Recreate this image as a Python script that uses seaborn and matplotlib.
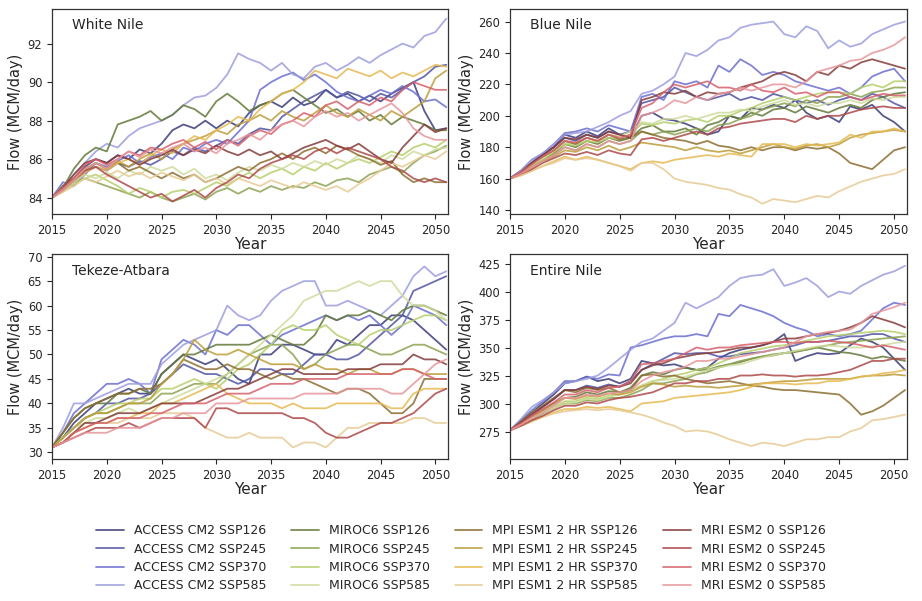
import numpy as np
import pandas as pd
import matplotlib
matplotlib.use("Agg")
import matplotlib.pyplot as plt
import seaborn as sns

sns.set_style("ticks")
plt.rcParams['font.family'] = ['DejaVu Sans']

START_YEAR = 2015
SERIES = ["ACCESS CM2 SSP126", "ACCESS CM2 SSP245", "ACCESS CM2 SSP370", "ACCESS CM2 SSP585",
          "MIROC6 SSP126", "MIROC6 SSP245", "MIROC6 SSP370", "MIROC6 SSP585",
          "MPI ESM1 2 HR SSP126", "MPI ESM1 2 HR SSP245", "MPI ESM1 2 HR SSP370", "MPI ESM1 2 HR SSP585",
          "MRI ESM2 0 SSP126", "MRI ESM2 0 SSP245", "MRI ESM2 0 SSP370", "MRI ESM2 0 SSP585"]
PANELS = ["White Nile", "Blue Nile", "Tekeze-Atbara", "Entire Nile"]
YTICKS = {"White Nile": [84, 86, 88, 90, 92],
          "Blue Nile": [140, 160, 180, 200, 220, 240, 260],
          "Tekeze-Atbara": [30, 35, 40, 45, 50, 55, 60, 65, 70],
          "Entire Nile": [275, 300, 325, 350, 375, 400, 425]}
YLIMS = {"White Nile": (83.15, 93.8), "Blue Nile": (137.5, 268),
         "Tekeze-Atbara": (28.6, 70.5), "Entire Nile": (250.3, 433.3)}
XTICKS = [2015, 2020, 2025, 2030, 2035, 2040, 2045, 2050]

# annual flow values (MCM/day), 2015..2051
white_nile = {
 "ACCESS CM2 SSP126": [84.0,84.6,85.0,85.6,86.0,85.8,86.2,86.0,86.5,86.3,86.8,87.5,87.8,87.6,88.0,87.6,88.0,87.7,88.4,88.8,89.0,88.7,89.2,88.8,89.0,89.6,89.2,89.4,89.0,89.3,89.0,89.4,89.7,90.0,88.5,87.5,87.6],
 "ACCESS CM2 SSP245": [84.0,84.5,84.8,85.3,85.6,85.4,85.8,85.6,85.9,85.7,86.0,86.4,86.2,86.6,86.4,86.7,87.0,86.8,87.3,87.6,87.5,88.2,88.6,89.0,89.3,89.6,89.2,89.5,89.3,89.0,89.4,89.2,89.6,90.0,90.3,90.8,90.9],
 "ACCESS CM2 SSP370": [84.0,84.8,84.6,85.2,85.8,85.6,85.9,86.2,85.8,86.1,86.3,86.0,86.6,86.4,86.8,87.0,86.8,87.4,88.0,89.6,90.0,90.3,90.5,90.1,90.4,90.0,89.5,89.2,89.0,89.3,89.6,89.4,89.8,89.5,89.0,89.1,88.7],
 "ACCESS CM2 SSP585": [84.0,84.6,85.2,85.8,86.4,86.8,86.6,87.2,87.6,87.8,88.0,88.3,88.8,89.2,89.3,89.7,90.4,91.5,91.2,91.0,90.6,91.0,90.4,90.2,90.8,91.0,90.6,90.9,91.3,91.0,91.4,91.7,92.0,91.8,92.4,92.6,93.3],
 "MIROC6 SSP126": [84.0,84.5,85.5,86.2,86.6,86.4,87.8,88.0,88.2,88.5,88.0,88.3,88.8,88.6,88.2,89.0,89.4,89.0,88.5,88.8,89.0,89.4,89.6,89.2,88.8,88.4,88.6,88.2,88.5,88.0,88.3,87.8,88.2,88.0,87.8,87.5,87.5],
 "MIROC6 SSP245": [84.0,84.4,84.8,85.0,84.8,84.6,84.4,84.2,84.0,84.3,84.0,83.8,84.0,84.2,83.9,84.3,84.5,84.2,84.5,84.3,84.6,84.4,84.6,84.5,84.8,84.6,84.9,85.0,84.8,85.2,85.4,85.6,85.3,85.8,86.2,86.4,86.7],
 "MIROC6 SSP370": [84.0,84.3,84.7,85.0,85.2,84.9,84.6,84.2,84.5,84.3,84.0,84.3,84.4,84.2,84.5,84.8,84.6,85.0,85.3,85.0,85.3,85.5,85.2,85.6,85.4,85.8,85.5,85.8,86.0,85.8,86.1,86.4,86.2,86.6,86.8,86.6,87.0],
 "MIROC6 SSP585": [84.0,84.4,84.8,85.2,85.0,85.3,85.0,85.4,85.2,85.6,85.4,85.6,85.2,85.5,85.0,85.2,84.9,85.3,85.6,85.4,85.7,85.5,85.8,85.6,85.9,85.7,86.0,85.8,86.2,86.0,85.8,86.2,86.0,86.4,86.2,86.5,86.6],
 "MPI ESM1 2 HR SSP126": [84.0,84.6,85.0,85.5,85.8,85.5,85.8,85.4,85.6,85.3,85.0,85.3,85.0,85.2,84.8,85.0,85.3,85.6,85.4,85.8,86.0,86.3,86.0,86.4,86.6,86.3,86.7,86.5,86.2,86.0,85.7,85.9,85.2,84.8,85.0,84.8,84.8],
 "MPI ESM1 2 HR SSP245": [84.0,84.5,85.0,85.4,85.8,85.5,85.9,85.6,86.0,86.3,86.0,86.5,86.8,87.0,87.2,87.5,87.3,87.8,88.0,88.3,88.0,88.5,88.2,88.0,88.4,88.8,88.4,88.2,88.6,88.3,88.0,88.5,88.2,88.6,89.0,90.2,90.6],
 "MPI ESM1 2 HR SSP370": [84.0,84.4,84.9,85.3,85.6,85.4,85.8,86.0,85.7,86.2,86.5,86.3,86.8,87.2,87.0,87.5,87.8,88.2,88.0,88.6,89.0,89.4,89.6,90.0,90.6,90.4,90.2,90.7,90.5,90.3,90.6,90.2,90.5,90.3,90.6,90.9,90.8],
 "MPI ESM1 2 HR SSP585": [84.0,84.3,84.6,85.0,84.8,85.1,85.4,85.1,85.3,85.0,85.3,85.1,84.9,85.2,84.8,85.0,84.7,85.0,84.8,84.6,84.9,84.7,84.5,84.8,84.6,84.4,84.6,84.3,84.7,85.0,85.4,85.8,85.6,85.9,86.2,86.0,86.4],
 "MRI ESM2 0 SSP126": [84.0,84.5,85.2,85.8,86.0,85.8,86.2,86.0,85.7,86.0,86.2,86.5,86.2,86.5,86.3,86.7,86.4,86.2,86.5,86.2,86.4,86.0,86.3,86.6,86.8,87.0,86.7,86.5,86.8,86.4,86.0,85.8,86.6,87.2,87.8,87.4,87.6],
 "MRI ESM2 0 SSP245": [84.0,84.4,84.9,85.4,85.6,85.2,84.9,84.6,84.3,84.0,84.2,83.8,84.1,84.4,84.0,84.5,84.8,85.2,85.0,85.5,85.8,86.0,86.2,86.0,86.4,86.6,86.3,86.6,86.4,86.2,86.0,85.6,85.4,85.0,84.8,85.0,84.8],
 "MRI ESM2 0 SSP370": [84.0,84.5,85.0,85.7,86.0,85.7,86.0,86.4,86.2,86.6,86.5,86.8,87.0,86.6,86.9,86.5,87.0,86.7,87.2,87.5,87.3,87.8,88.0,88.4,88.2,88.8,89.0,88.6,89.0,88.8,89.2,89.0,89.6,90.0,89.8,89.6,89.6],
 "MRI ESM2 0 SSP585": [84.0,84.4,84.9,85.5,85.8,85.5,86.0,86.4,86.1,86.5,86.3,86.6,86.8,86.4,86.6,86.3,86.8,87.0,87.3,87.0,87.5,87.8,88.0,87.7,88.2,88.5,88.2,88.4,88.0,88.3,88.6,88.9,88.4,87.6,87.2,87.0,87.0],
}

blue_nile = {
 "ACCESS CM2 SSP126": [160,165,170,176,180,188,186,190,187,192,188,186,200,202,198,197,195,192,188,190,200,198,205,204,207,205,210,202,198,200,196,206,204,207,200,196,190],
 "ACCESS CM2 SSP245": [160,164,170,175,180,186,184,188,186,190,188,190,208,210,212,218,215,212,210,212,214,210,212,210,214,212,210,208,210,207,210,212,210,214,212,208,205],
 "ACCESS CM2 SSP370": [160,165,172,176,182,189,190,192,190,194,192,190,212,214,210,222,220,222,218,232,228,236,232,226,228,226,222,220,218,216,218,214,218,225,228,230,222],
 "ACCESS CM2 SSP585": [160,165,172,176,182,188,189,190,193,196,200,203,214,216,220,225,240,238,242,248,250,256,258,259,260,252,250,257,254,243,248,244,246,252,255,258,260],
 "MIROC6 SSP126": [160,164,168,172,176,182,180,184,182,186,184,186,192,194,190,190,192,188,194,196,200,198,202,200,204,205,202,206,204,202,205,207,205,210,212,214,215],
 "MIROC6 SSP245": [160,163,167,171,175,180,178,182,180,184,182,184,190,188,190,188,190,192,190,194,195,198,200,204,206,208,206,210,208,212,212,214,212,215,216,218,218],
 "MIROC6 SSP370": [160,164,168,172,177,182,181,184,183,186,185,188,195,194,196,195,197,198,196,200,200,203,205,208,210,212,210,212,214,215,215,214,218,220,218,222,222],
 "MIROC6 SSP585": [160,164,169,173,178,183,182,186,184,188,187,190,196,195,198,198,200,198,200,202,202,204,203,206,208,210,207,208,206,208,208,210,208,211,210,212,212],
 "MPI ESM1 2 HR SSP126": [160,164,170,174,178,184,182,186,184,188,185,186,190,188,186,185,184,182,184,181,180,178,180,178,180,180,178,180,179,180,176,170,168,166,172,178,180],
 "MPI ESM1 2 HR SSP245": [160,163,167,171,174,178,177,180,178,181,178,180,183,182,181,180,178,180,178,177,178,176,178,180,182,180,179,181,182,180,182,186,188,189,190,191,190],
 "MPI ESM1 2 HR SSP370": [160,162,165,168,171,174,172,174,172,170,168,166,170,171,170,172,173,174,175,174,176,175,174,182,182,182,180,182,181,182,183,188,186,190,190,192,190],
 "MPI ESM1 2 HR SSP585": [160,162,165,168,170,173,172,173,172,170,168,165,170,170,166,160,158,157,156,154,153,150,148,144,147,146,145,147,149,148,152,155,158,160,162,163,166],
 "MRI ESM2 0 SSP126": [160,164,170,175,180,186,185,188,186,190,188,186,210,212,215,214,216,212,215,214,215,218,220,222,226,228,226,222,228,226,232,230,234,236,234,232,230],
 "MRI ESM2 0 SSP245": [160,163,166,170,173,176,175,177,175,178,176,175,185,186,184,186,188,190,188,192,193,195,196,197,198,198,196,200,198,200,200,202,204,205,206,205,205],
 "MRI ESM2 0 SSP370": [160,164,169,174,178,184,183,186,184,188,186,188,205,208,215,220,218,220,222,218,218,216,220,216,215,218,214,215,212,215,215,212,210,212,214,213,213],
 "MRI ESM2 0 SSP585": [160,163,167,171,175,180,178,182,180,184,182,184,200,202,205,210,208,212,210,214,215,218,216,218,220,220,218,222,228,230,232,235,236,240,242,245,250],
}

tekeze_atbara = {
 "ACCESS CM2 SSP126": [31,33,36,38,40,41,42,43,42,42,46,48,50,49,48,49,47,45,44,50,50,52,52,51,50,50,53,52,54,56,56,58,58,57,55,53,51],
 "ACCESS CM2 SSP245": [31,33,35,37,38,40,40,41,41,42,44,46,48,47,46,46,45,44,45,47,47,46,46,48,50,50,49,49,50,52,54,56,58,63,64,65,66],
 "ACCESS CM2 SSP370": [31,34,38,40,42,44,44,45,44,42,49,51,53,52,50,55,54,56,56,54,52,54,55,56,57,58,57,58,57,58,56,54,56,60,59,58,56],
 "ACCESS CM2 SSP585": [31,35,40,40,41,42,43,44,44,44,48,50,52,53,54,55,60,58,57,58,61,63,64,65,65,60,60,61,60,59,58,60,62,66,68,66,67],
 "MIROC6 SSP126": [31,34,37,39,40,40,42,42,43,42,46,48,50,50,51,52,52,52,52,53,54,53,52,52,54,58,57,58,58,59,58,57,59,60,60,59,58],
 "MIROC6 SSP245": [31,33,35,37,38,38,39,40,40,40,42,42,43,44,44,44,46,48,50,51,52,52,50,47,48,50,51,52,52,51,50,50,51,52,52,51,50],
 "MIROC6 SSP370": [31,33,35,37,38,39,40,40,41,41,43,43,44,45,44,43,45,47,48,50,52,55,56,55,55,56,54,53,52,54,55,55,56,57,58,58,57],
 "MIROC6 SSP585": [31,33,35,36,37,37,38,39,38,39,40,41,42,43,44,45,46,48,50,52,54,56,58,61,62,63,63,64,65,64,65,65,62,60,60,59,57],
 "MPI ESM1 2 HR SSP126": [31,34,37,39,40,41,42,42,43,43,44,46,49,48,47,47,48,47,47,46,45,46,45,45,44,43,42,43,43,42,40,38,38,40,45,45,45],
 "MPI ESM1 2 HR SSP245": [31,33,35,37,38,38,39,40,40,41,44,46,49,53,51,50,50,51,50,49,48,48,48,47,48,47,47,46,47,47,46,46,47,47,46,46,46],
 "MPI ESM1 2 HR SSP370": [31,32,34,35,36,36,37,37,38,38,40,40,41,42,43,44,42,41,40,40,40,39,40,39,39,39,40,40,40,40,40,39,39,42,43,43,43],
 "MPI ESM1 2 HR SSP585": [31,32,34,35,36,36,36,37,37,37,38,38,38,37,35,34,33,33,34,33,33,33,31,32,32,31,33,35,35,36,36,36,36,37,37,36,36],
 "MRI ESM2 0 SSP126": [31,32,34,36,36,37,38,38,38,39,40,40,40,40,41,42,43,43,44,45,46,47,47,46,46,46,46,47,47,47,48,48,48,50,49,49,48],
 "MRI ESM2 0 SSP245": [31,32,33,34,35,35,35,36,35,36,37,37,37,37,35,39,39,38,38,38,38,38,37,37,36,34,33,33,34,35,36,36,37,38,40,42,43],
 "MRI ESM2 0 SSP370": [31,32,34,35,36,36,37,37,37,38,38,39,40,40,40,41,42,42,42,43,44,44,44,45,45,45,45,46,46,46,46,46,47,47,46,45,45],
 "MRI ESM2 0 SSP585": [31,32,33,34,34,34,35,35,35,36,37,37,38,38,38,40,40,40,41,41,41,41,41,42,42,42,42,43,43,43,43,42,42,44,46,48,49],
}

entire_nile = {
 "ACCESS CM2 SSP126": [276,284,292,300,308,318,320,324,320,322,318,322,338,336,334,335,332,330,332,340,345,348,350,352,355,362,338,342,345,344,345,352,358,355,350,340,330],
 "ACCESS CM2 SSP245": [276,282,290,297,304,312,312,316,314,317,315,320,330,335,340,345,344,345,345,342,342,344,345,346,348,350,352,355,355,356,358,360,360,362,362,358,355],
 "ACCESS CM2 SSP370": [276,285,294,302,310,320,320,324,322,326,325,350,352,355,358,360,360,362,360,380,378,388,385,382,378,372,368,365,360,362,360,362,365,375,385,390,388],
 "ACCESS CM2 SSP585": [276,286,297,303,310,318,320,322,325,332,340,348,355,358,365,372,390,385,390,395,405,412,414,415,420,405,408,412,405,395,400,398,405,410,415,418,423],
 "MIROC6 SSP126": [276,282,289,294,300,305,306,310,308,311,310,314,325,328,326,330,332,330,330,333,335,337,340,342,343,345,346,348,350,348,346,345,343,340,342,340,338],
 "MIROC6 SSP245": [276,281,286,291,296,300,300,303,302,305,305,308,312,318,318,320,322,326,328,332,335,338,340,342,344,345,347,348,350,352,354,355,356,357,358,359,360],
 "MIROC6 SSP370": [276,281,287,292,297,302,302,305,304,307,308,312,316,320,322,325,327,330,332,336,340,345,347,349,351,352,354,356,358,360,361,362,363,364,365,364,362],
 "MIROC6 SSP585": [276,281,287,292,296,300,301,304,303,306,308,312,316,320,321,322,324,327,330,332,334,335,338,341,343,345,347,349,351,352,351,350,350,351,352,354,355],
 "MPI ESM1 2 HR SSP126": [276,284,292,298,305,312,310,314,312,314,310,312,325,326,324,325,322,320,318,319,320,318,316,315,313,312,312,311,310,309,308,300,290,293,298,305,312],
 "MPI ESM1 2 HR SSP245": [276,282,288,294,300,305,304,307,306,309,308,310,315,318,317,315,316,315,315,314,315,316,317,318,319,320,320,321,322,322,322,322,324,325,325,326,325],
 "MPI ESM1 2 HR SSP370": [276,280,284,288,292,295,295,297,296,297,295,293,300,301,302,305,306,307,308,309,310,312,315,318,318,318,317,318,318,320,320,322,324,325,327,328,330],
 "MPI ESM1 2 HR SSP585": [276,280,284,288,291,293,294,295,294,295,294,292,290,287,283,280,275,276,275,272,268,265,262,265,264,262,265,268,268,270,270,275,278,285,286,288,290],
 "MRI ESM2 0 SSP126": [276,283,290,297,304,312,312,315,313,316,315,318,330,334,336,340,342,344,345,346,348,350,350,352,355,358,358,360,362,363,365,368,372,378,375,372,368],
 "MRI ESM2 0 SSP245": [276,280,285,289,294,298,298,301,300,303,305,306,308,310,314,318,318,320,320,322,322,325,325,326,325,325,324,325,325,326,328,330,334,338,338,340,340],
 "MRI ESM2 0 SSP370": [276,282,289,295,301,308,308,312,310,314,315,320,335,336,338,340,345,350,348,350,350,352,353,354,355,355,354,355,355,356,355,354,352,350,352,350,348],
 "MRI ESM2 0 SSP585": [276,281,287,292,298,305,305,308,307,309,310,312,320,325,328,330,333,338,338,340,340,342,344,346,348,350,355,360,362,364,365,366,372,380,383,386,390],
}

PANEL_DATA = {"White Nile": white_nile, "Blue Nile": blue_nile,
              "Tekeze-Atbara": tekeze_atbara, "Entire Nile": entire_nile}

palette = dict(zip(SERIES, sns.color_palette("tab20b", 16)))

fig = plt.figure(figsize=(9.22, 6.01), dpi=100)
positions = {"White Nile": [0.0564, 0.644, 0.430, 0.341],
             "Blue Nile": [0.553, 0.644, 0.431, 0.341],
             "Tekeze-Atbara": [0.0564, 0.236, 0.430, 0.341],
             "Entire Nile": [0.553, 0.236, 0.431, 0.341]}

for panel in PANELS:
    ax = fig.add_axes(positions[panel])
    rows = []
    for s in SERIES:
        vals = PANEL_DATA[panel][s]
        for i, v in enumerate(vals):
            rows.append((START_YEAR + i, v, s))
    df = pd.DataFrame(rows, columns=["Year", "Flow", "Series"])
    sns.lineplot(data=df, x="Year", y="Flow", hue="Series", hue_order=SERIES,
                 palette=palette, linewidth=1.3, alpha=0.85, ax=ax, legend=(panel == "White Nile"))
    ax.set_xlim(2015, 2051.2)
    ax.set_ylim(*YLIMS[panel])
    ax.set_xticks(XTICKS)
    ax.set_yticks(YTICKS[panel])
    ax.tick_params(labelsize=8.3, length=3.5, width=0.8)
    ax.set_xlabel("Year", fontsize=11, labelpad=0)
    ax.set_ylabel("Flow (MCM/day)", fontsize=10.5, labelpad=3)
    ax.text(0.05, 0.92, panel, transform=ax.transAxes, fontsize=10, va="center", ha="left")
    for sp in ax.spines.values():
        sp.set_color("#333333")
        sp.set_linewidth(0.9)
    if panel == "White Nile":
        handles, labels = ax.get_legend_handles_labels()
        ax.get_legend().remove()

leg = fig.legend(handles, labels, loc="lower center", bbox_to_anchor=(0.5, -0.004),
                 ncol=4, frameon=False, fontsize=9, handlelength=2.2,
                 columnspacing=2.0, labelspacing=0.42)
for h in leg.legend_handles:
    h.set_linewidth(1.3)

fig.savefig("out.png", dpi=100)
